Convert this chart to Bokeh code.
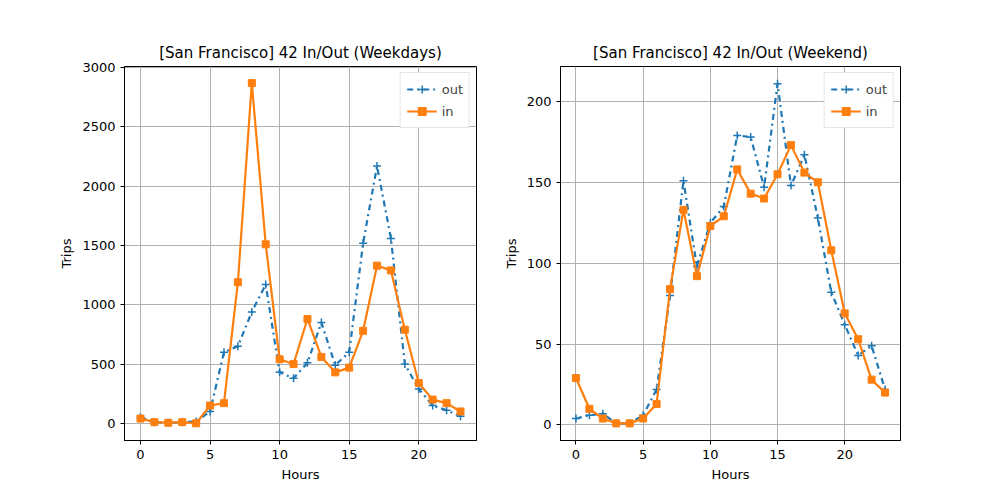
from bokeh.plotting import figure
from bokeh.layouts import row
from bokeh.models import Range1d, Legend
from bokeh.embed import file_html
from bokeh.resources import INLINE

hours = list(range(24))
wd_out = [50, 10, 5, 10, 15, 100, 600, 650, 940, 1170, 430, 380, 510, 850, 490, 600,
          1520, 2170, 1560, 500, 290, 150, 110, 60]
wd_in = [40, 10, 5, 10, 0, 150, 170, 1190, 2870, 1510, 540, 500, 880, 560, 430, 470,
         780, 1330, 1290, 790, 340, 200, 170, 100]
we_out = [4, 6, 7, 1, 1, 6, 22, 80, 151, 98, 125, 135, 179, 178, 147, 211,
          148, 167, 128, 82, 62, 43, 49, 22]
we_in = [29, 10, 4, 1, 1, 4, 13, 84, 133, 92, 123, 129, 158, 143, 140, 155,
         173, 156, 150, 108, 69, 53, 28, 20]

BLUE = "#1f77b4"
ORANGE = "#ff7f0e"
FONT = "DejaVu Sans"


def make(title, out, inn, yr, width, left, right):
    p = figure(width=width, height=484, output_backend="svg", toolbar_location=None,
               x_range=Range1d(-1.15, 24.15), y_range=Range1d(*yr),
               min_border_left=left, min_border_right=right,
               min_border_top=66, min_border_bottom=40)
    p.title.text = title
    p.title.align = "center"
    p.title.text_font = FONT
    p.title.text_font_size = "15px"
    p.title.text_font_style = "normal"
    p.title.text_color = "black"
    p.xaxis.axis_label = "Hours"
    p.yaxis.axis_label = "Trips"
    for ax in (p.xaxis, p.yaxis):
        ax.axis_label_text_font = FONT
        ax.axis_label_text_font_size = "13px"
        ax.axis_label_text_font_style = "normal"
        ax.axis_label_text_color = "black"
        ax.major_label_text_font = FONT
        ax.major_label_text_font_size = "13px"
        ax.major_label_text_color = "black"
        ax.minor_tick_line_color = None
        ax.major_tick_line_color = "black"
        ax.axis_line_color = "black"
        ax.major_tick_in = 0
        ax.major_tick_out = 4
    p.xaxis.ticker = [0, 5, 10, 15, 20]
    p.grid.grid_line_color = "#b0b0b0"
    p.grid.grid_line_alpha = 1.0
    p.outline_line_color = "black"
    l1 = p.line(hours, out, color=BLUE, line_width=2.2, line_dash="dashdot")
    m1 = p.scatter(hours, out, marker="cross", size=8, color=BLUE, line_width=1.5)
    l2 = p.line(hours, inn, color=ORANGE, line_width=2.2)
    m2 = p.scatter(hours, inn, marker="square", size=7, color=ORANGE)
    leg = Legend(items=[("out", [l1, m1]), ("in", [l2, m2])], location="top_right",
                 label_text_font=FONT, label_text_font_size="13px",
                 border_line_color="#cccccc", glyph_width=30, spacing=2,
                 padding=6, margin=6)
    p.add_layout(leg)
    return p


p1 = make("[San Francisco] 42 In/Out (Weekdays)", wd_out, wd_in, (-145, 3010), 500, 124, 24)
p2 = make("[San Francisco] 42 In/Out (Weekend)", we_out, we_in, (-9.6, 221.6), 484, 48, 84)
p = row(p1, p2)

open("out.html", "w").write(file_html(p, INLINE))
